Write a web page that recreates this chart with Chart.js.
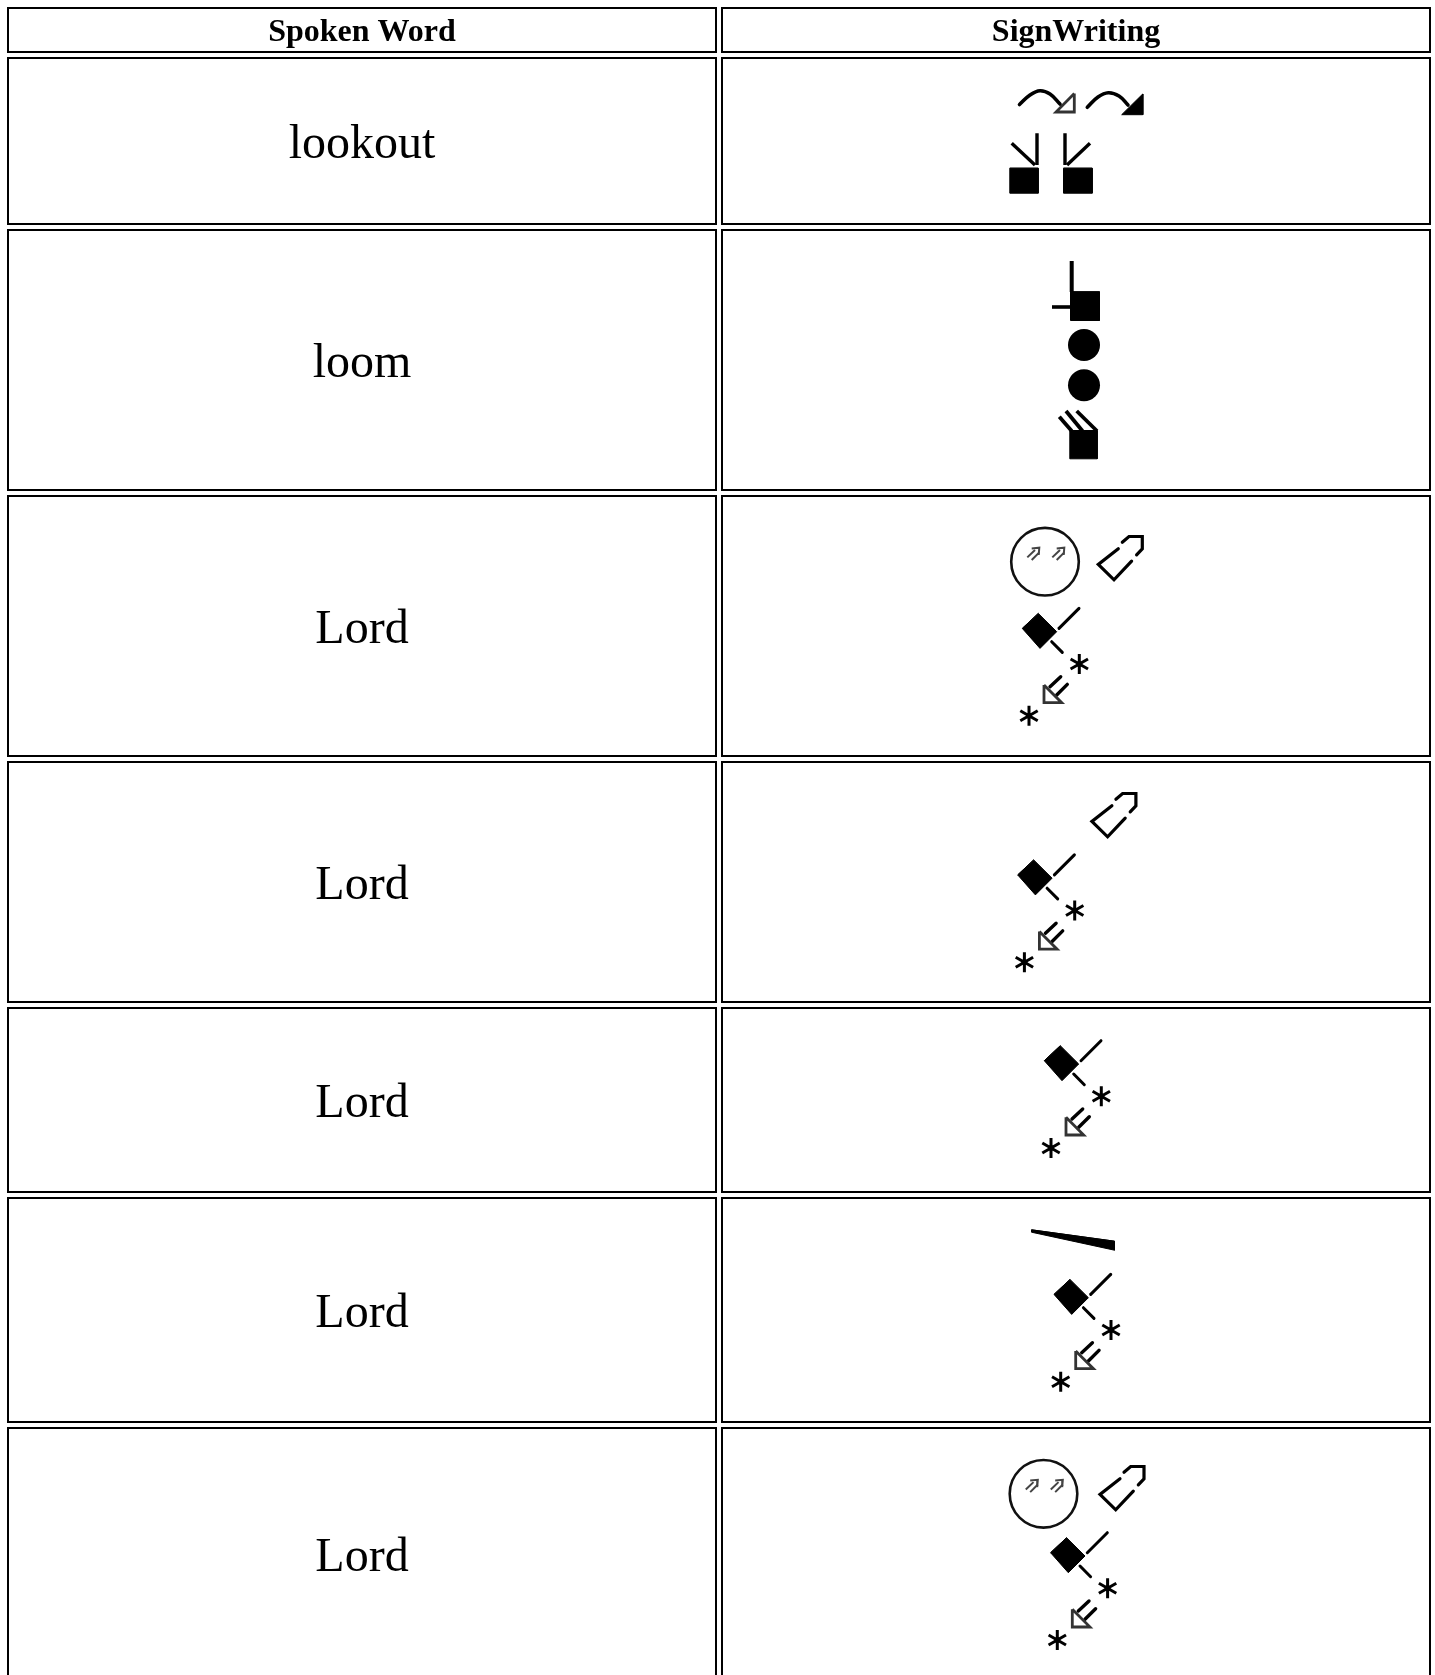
<!DOCTYPE html>
<html>
<head>
<meta charset="utf-8">
<style>html,body{margin:0;padding:0;background:#fff;overflow:hidden}canvas{display:block}</style>
<script src="https://cdn.jsdelivr.net/npm/chart.js@4"></script>
</head>
<body>
<canvas id="c" width="1435" height="1675"></canvas>
<script>
const columnHeaders = ["Spoken Word", "SignWriting"];
const spokenWords = ["lookout", "loom", "Lord", "Lord", "Lord", "Lord", "Lord"];

// table geometry on a page-sized scale
const colEdges = [[7, 717], [721, 1431]];
const rowEdges = [[7, 53], [57, 225], [229, 491], [495, 757], [761, 1003], [1007, 1193], [1197, 1423], [1427, 1682]];
const headerBaseline = 41;
const bodyBaselineOffset = 16.5;

// the scales must span the whole page: no inset for mark overflow
['line', 'scatter'].forEach(t => { Chart.registry.getController(t).prototype.getMaxOverflow = () => 0; });

const datasets = [];
function stroke(pts, w, color, fillColor, cap) {
  datasets.push({
    type: 'line', data: pts.map(p => ({x: p[0], y: p[1]})),
    borderColor: color || '#000', borderWidth: w, pointRadius: 0, tension: 0,
    borderCapStyle: cap || 'butt', borderJoinStyle: 'miter',
    fill: fillColor ? 'shape' : false, backgroundColor: fillColor || 'transparent', glyph: w !== 2 || !!fillColor
  });
}
function poly(pts, color) { stroke(pts.concat([pts[0], pts[1]]), 1, color || '#000', color || '#000'); }
function dot(x, y, r) {
  datasets.push({type: 'scatter', data: [{x, y}], pointRadius: r, pointBackgroundColor: '#000', pointBorderWidth: 0, glyph: true});
}
function ring(x, y, r, w) {
  datasets.push({type: 'scatter', data: [{x, y}], pointRadius: r, pointBackgroundColor: 'transparent', pointBorderColor: '#111', pointBorderWidth: w, glyph: true});
}
function curve(pts, w) {
  stroke(pts, w);
  const d = datasets[datasets.length - 1];
  d.tension = 0.4; d.borderCapStyle = 'round';
}
function shift(pts, ox, oy) { return pts.map(p => [p[0] + ox, p[1] + oy]); }

// cell borders
rowEdges.forEach(r => colEdges.forEach(c => {
  stroke([[c[0] + 1, r[0] + 1], [c[1] - 1, r[0] + 1], [c[1] - 1, r[1] - 1], [c[0] + 1, r[1] - 1], [c[0] + 1, r[0]]], 2);
}));

// row 1: lookout
curve([[1019.5, 104.5], [1030, 95], [1040, 90.7], [1050, 94], [1060, 104]], 3.6);
stroke([[1074.3, 93.5], [1074.3, 112], [1056, 112], [1074.3, 93.5]], 2.8, '#333');
curve([[1087.3, 107.3], [1098, 97], [1108.3, 92.7], [1119, 96], [1128, 105]], 3.6);
poly([[1142.7, 94], [1142.7, 114.7], [1121.7, 114.7]]);
poly([[1009.8, 168.2], [1038.2, 168.2], [1038.2, 193.2], [1009.8, 193.2]]);
poly([[1063.5, 168.2], [1092.2, 168.2], [1092.2, 193.2], [1063.5, 193.2]]);
stroke([[1037, 133.3], [1037, 165]], 3.4);
stroke([[1011.7, 143.3], [1035, 165]], 3.4);
stroke([[1065, 133.3], [1065, 165]], 3.4);
stroke([[1090, 143.3], [1067, 165]], 3.4);

// row 2: loom
stroke([[1071.7, 261], [1071.7, 292]], 4);
stroke([[1052, 307], [1071, 307]], 3.6);
poly([[1070.5, 291.8], [1099.5, 291.8], [1099.5, 320.5], [1070.5, 320.5]]);
dot(1084, 345, 16);
dot(1084, 385.3, 16);
poly([[1069.8, 430.5], [1097.2, 430.5], [1097.2, 458.8], [1069.8, 458.8]]);
stroke([[1059.3, 416.7], [1071.7, 431]], 3.8);
stroke([[1066, 411], [1082.5, 431]], 3.8);
stroke([[1076.7, 411], [1097, 431]], 3.8);

// shared parts of the "Lord" signs
function star(cx, cy) {
  const r = 10, a = r * 0.87, b = r * 0.5;
  stroke([[cx, cy - r], [cx, cy + r]], 3);
  stroke([[cx - a, cy - b], [cx + a, cy + b]], 3);
  stroke([[cx - a, cy + b], [cx + a, cy - b]], 3);
  dot(cx, cy, 3);
}
function lordHand(cx, cy) {
  poly(shift([[-17.7, -2.3], [-1.7, -17.3], [16.7, 1], [0, 17.7]], cx, cy));
  stroke(shift([[19, -2.3], [39, -22.3]], cx, cy), 3, '#000', null, 'round');
  stroke(shift([[11.7, 11], [22.3, 21.7]], cx, cy), 3, '#000', null, 'round');
  star(cx + 39.3, cy + 33.3);
  star(cx - 11, cy + 85);
  stroke(shift([[4, 54.3], [4, 72], [21.7, 72], [4, 54.3]], cx, cy), 2.8, '#333');
  stroke(shift([[10, 56], [20.7, 46]], cx, cy), 3.4, '#000', null, 'round');
  stroke(shift([[16.7, 64.3], [27.3, 53.7]], cx, cy), 3.4, '#000', null, 'round');
}
function tag(ox, oy) {
  stroke(shift([[20, -15.7], [0, 0], [15.7, 15.3], [33.3, -3.3]], ox, oy), 3.2, '#000', null, 'round');
  stroke(shift([[24, -22.3], [30.7, -28], [44, -28], [44, -15.7], [38.3, -9.7]], ox, oy), 3.2, '#000', null, 'round');
}
function face(cx, cy) {
  ring(cx, cy, 33.8, 2.6);
  [0, 25].forEach(dx => {
    stroke(shift([[-17.7, -4.3], [-10, -11.7]], cx + dx, cy), 2, '#444');
    stroke(shift([[-13.3, -1.7], [-5.7, -9.3]], cx + dx, cy), 2, '#444');
    stroke(shift([[-13.3, -13.3], [-5.7, -14], [-6.3, -6.7]], cx + dx, cy), 2, '#444');
  });
}

// row 3
face(1045, 561.7); tag(1098.3, 564.5); lordHand(1040, 630.7);
// row 4
tag(1091.9, 821.5); lordHand(1035.4, 877.2);
// row 5
lordHand(1062, 1063);
// row 6
poly([[1031.5, 1229.8], [1114.5, 1241.2], [1114.5, 1250.2], [1031.5, 1232.2]]);
lordHand(1071.7, 1296.7);
// row 7
face(1043.5, 1493.8); tag(1100, 1494.5); lordHand(1068.3, 1555);

const tablePlugin = {
  id: 'tableText',
  beforeDatasetDraw(chart, args) {
    if (chart.data.datasets[args.index].glyph) chart.ctx.filter = 'blur(0.6px)';
  },
  afterDatasetDraw(chart) { chart.ctx.filter = 'none'; },
  afterDraw(chart) {
    const {ctx, scales: {x, y}} = chart;
    ctx.save();
    ctx.fillStyle = '#000';
    ctx.textAlign = 'center';
    ctx.textBaseline = 'alphabetic';
    ctx.font = 'bold 32px "Liberation Serif"';
    columnHeaders.forEach((t, i) => {
      ctx.fillText(t, x.getPixelForValue((colEdges[i][0] + colEdges[i][1]) / 2), y.getPixelForValue(headerBaseline));
    });
    ctx.font = '48px "Liberation Serif"';
    spokenWords.forEach((t, i) => {
      const r = rowEdges[i + 1];
      ctx.fillText(t, x.getPixelForValue((colEdges[0][0] + colEdges[0][1]) / 2), y.getPixelForValue((r[0] + r[1]) / 2 + bodyBaselineOffset));
    });
    ctx.restore();
  }
};

new Chart(document.getElementById('c'), {
  type: 'scatter',
  data: {datasets},
  plugins: [tablePlugin],
  options: {
    responsive: false, animation: false, events: [],
    layout: {padding: 0},
    plugins: {legend: {display: false}, tooltip: {enabled: false}, title: {display: false}},
    scales: {
      x: {type: 'linear', min: 0, max: 1435, display: false},
      y: {type: 'linear', min: 0, max: 1675, reverse: true, display: false}
    }
  }
});
</script>
</body>
</html>
